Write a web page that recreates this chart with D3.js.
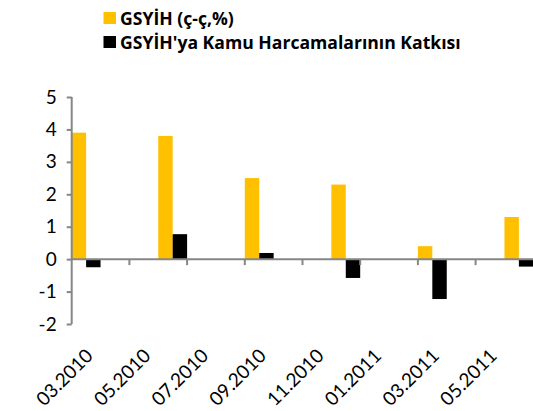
<!DOCTYPE html>
<html>
<head>
<meta charset="utf-8">
<script src="https://cdn.jsdelivr.net/npm/d3@7"></script>
<style>
  html, body { margin: 0; padding: 0; background: #fff; }
  svg { display: block; font-family: Lato, "Open Sans", sans-serif; }
</style>
</head>
<body>
<svg id="chart" width="533" height="411"></svg>
<script>
// month slots on the date axis
const months = ['03.2010','04.2010','05.2010','06.2010','07.2010','08.2010','09.2010','10.2010',
  '11.2010','12.2010','01.2011','02.2011','03.2011','04.2011','05.2011','06.2011'];
const tickLabels = ['03.2010','05.2010','07.2010','09.2010','11.2010','01.2011','03.2011','05.2011'];
const quarters = ['03.2010','06.2010','09.2010','12.2010','03.2011','06.2011'];
const gdp = [3.9, 3.8, 2.5, 2.3, 0.4, 1.3];
const publicContrib = [-0.25, 0.77, 0.19, -0.58, -1.23, -0.23];
const seriesNames = ["GSYİH (ç-ç,%)", "GSYİH'ya Kamu Harcamalarının Katkısı"];
const seriesColors = ['#FFC000', '#000000'];
const yTicks = [-2, -1, 0, 1, 2, 3, 4, 5];

const svg = d3.select('#chart');
const axisColor = '#868686';

const x = d3.scaleBand().domain(months).range([71.7, 533.3]).padding(0);
const xi = d3.scaleBand().domain([0, 1]).range([0, x.bandwidth()]).padding(0);
const y = d3.scaleLinear().domain([-2, 5]).range([324, 97]);

const rows = quarters.map((q, i) => ({ q, vals: [gdp[i], publicContrib[i]] }));

// bars
const groups = svg.append('g').selectAll('g').data(rows).join('g')
  .attr('transform', d => `translate(${x(d.q)},0)`);
groups.selectAll('rect').data(d => d.vals.map((v, k) => ({ v, k }))).join('rect')
  .attr('x', d => xi(d.k))
  .attr('width', xi.bandwidth())
  .attr('y', d => y(Math.max(0, d.v)))
  .attr('height', d => Math.abs(y(d.v) - y(0)))
  .attr('fill', d => seriesColors[d.k]);

// y axis
const yAxis = svg.append('g').attr('transform', 'translate(71.7,0)')
  .call(d3.axisLeft(y).tickValues(yTicks).tickSize(5).tickPadding(10).tickFormat(d => String(d)));
yAxis.select('.domain').attr('stroke', axisColor).attr('stroke-width', 2).attr('d', `M0,${y(5)}V${y(-2)}`);
yAxis.selectAll('.tick line').attr('stroke', axisColor).attr('stroke-width', 2);
yAxis.selectAll('.tick text').attr('font-size', 19).attr('fill', '#000').attr('font-family', 'Lato, sans-serif');

// zero line with tick marks every 2 months
svg.append('line').attr('x1', 71.7).attr('x2', 533.3).attr('y1', y(0)).attr('y2', y(0))
  .attr('stroke', axisColor).attr('stroke-width', 2);
svg.append('g').selectAll('line').data(tickLabels.slice(1)).join('line')
  .attr('x1', d => x(d)).attr('x2', d => x(d))
  .attr('y1', y(0)).attr('y2', y(0) + 6)
  .attr('stroke', axisColor).attr('stroke-width', 2);

// rotated month labels
svg.append('g').selectAll('text').data(tickLabels).join('text')
  .attr('transform', d => `translate(${x(d) + x.bandwidth() / 2 + 8},${357}) rotate(-45)`)
  .attr('text-anchor', 'end')
  .attr('font-size', 19)
  .text(d => d);

// legend
const legend = svg.append('g').selectAll('g').data(seriesNames).join('g')
  .attr('transform', (d, i) => `translate(103.5,${25 + i * 24})`);
legend.append('rect').attr('x', 0).attr('y', -13).attr('width', 12.5).attr('height', 12)
  .attr('fill', (d, i) => seriesColors[i]);
legend.append('text').attr('x', 16.5).attr('y', 0)
  .attr('font-family', '"Open Sans", sans-serif')
  .attr('font-size', 17.6).attr('font-weight', 'bold')
  .text(d => d);
</script>
</body>
</html>
